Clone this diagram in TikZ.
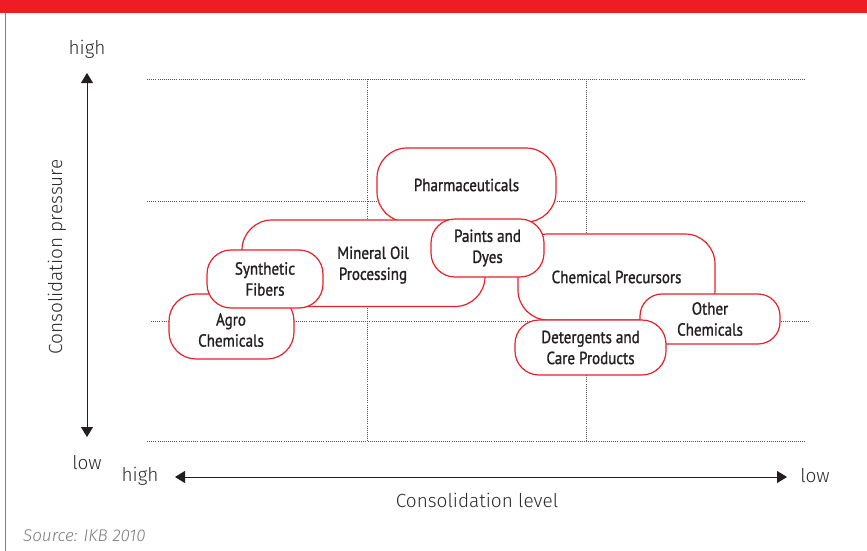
\documentclass[tikz,border=0pt]{standalone}
\usepackage{fontspec}
\setmainfont{Fira Sans}
\IfFontExistsTF{Fira Sans Light}{\newfontfamily\axisfont{Fira Sans Light}}{\newfontfamily\axisfont{Fira Sans}}
\newfontfamily\boxfont{PT Sans}[FakeStretch=0.86, FakeBold=1.2]
\usetikzlibrary{arrows.meta}
\definecolor{titlered}{HTML}{EE1C25}
\definecolor{boxred}{HTML}{E8202A}
\definecolor{textcol}{HTML}{231F20}
\definecolor{axiscol}{HTML}{2A2A2A}
\definecolor{gridcol}{HTML}{555555}
\definecolor{srccol}{HTML}{7A7A7A}
\tikzset{
  box/.style={draw=boxred, line width=1.2pt, fill=white, inner sep=0pt,
    align=center, text=textcol, font=\boxfont\fontsize{17.5}{21}\selectfont},
  lbl/.style={inner sep=0pt, align=center, text=textcol, font=\boxfont\fontsize{17.5}{21}\selectfont},
  axlbl/.style={inner sep=0pt, text=axiscol, font=\axisfont\fontsize{19}{22}\selectfont},
  gridline/.style={draw=gridcol, line width=0.7pt, dash pattern=on 0.8pt off 1.3pt},
  axisarrow/.style={draw=textcol, line width=1pt, {Triangle[width=12pt,length=10pt]}-{Triangle[width=12pt,length=10pt]}}
}
\begin{document}
\begin{tikzpicture}[x=1pt,y=-1pt]
\useasboundingbox (0,0) rectangle (867,551);
% title bar and frame
\fill[titlered] (0,0) rectangle (867,13);
\draw[draw=gray, line width=1pt] (5.5,13) -- (5.5,551);
% grid
\draw[gridline] (147,79) -- (806,79);
\draw[gridline] (147,201) -- (806,201);
\draw[gridline] (151,321) -- (809,321);
\draw[gridline] (147,441) -- (806,441);
\draw[gridline] (367.5,79) -- (367.5,441);
\draw[gridline] (586.5,79) -- (586.5,441);
% axes
\coordinate (ytop) at (87,73);
\coordinate (ybot) at (87,437);
\coordinate (xleft) at (175,477);
\coordinate (xright) at (787,477);
\draw[axisarrow] (ybot) -- (ytop);
\draw[axisarrow] (xleft) -- (xright);
\node[axlbl] (yhigh) at (87,49) {high};
\node[axlbl] (ylow) at (87,463) {low};
\node[axlbl, rotate=90] (ytitle) at (57,257) {Consolidation pressure};
\node[axlbl] (xhigh) at (140,476) {high};
\node[axlbl] (xlow) at (815,476) {low};
\node[axlbl] (xtitle) at (477,500) {Consolidation level};
\node[inner sep=0pt, anchor=west, text=srccol, font=\axisfont\itshape\fontsize{17}{19}\selectfont] (src) at (23,536) {Source: IKB 2010};
% boxes
\node[box, minimum width=179pt, minimum height=74pt, rounded corners=30pt] (pharma) at (466.5,185) {Pharmaceuticals};
\node[box, minimum width=243pt, minimum height=86.5pt, rounded corners=30pt] (mop) at (363.5,263.25) {};
\node[lbl] (moptext) at (373,265) {Mineral Oil\\Processing};
\node[box, minimum width=197pt, minimum height=86pt, rounded corners=30pt] (cp) at (616.5,277) {Chemical Precursors};
\node[box, minimum width=125pt, minimum height=65pt, rounded corners=27pt] (agro) at (231.5,326.5) {};
\node[lbl] (agrotext) at (231,330) {Agro\\Chemicals};
\node[box, minimum width=116pt, minimum height=58pt, rounded corners=24pt] (syn) at (265,279) {Synthetic\\Fibers};
\node[box, minimum width=113pt, minimum height=58pt, rounded corners=24pt] (paints) at (487.5,248) {Paints and\\Dyes};
\node[box, minimum width=140pt, minimum height=50pt, rounded corners=22pt] (other) at (710,319) {Other\\Chemicals};
\node[box, minimum width=151pt, minimum height=55pt, rounded corners=24pt] (det) at (590.5,347.5) {Detergents and\\Care Products};
\end{tikzpicture}
\end{document}
